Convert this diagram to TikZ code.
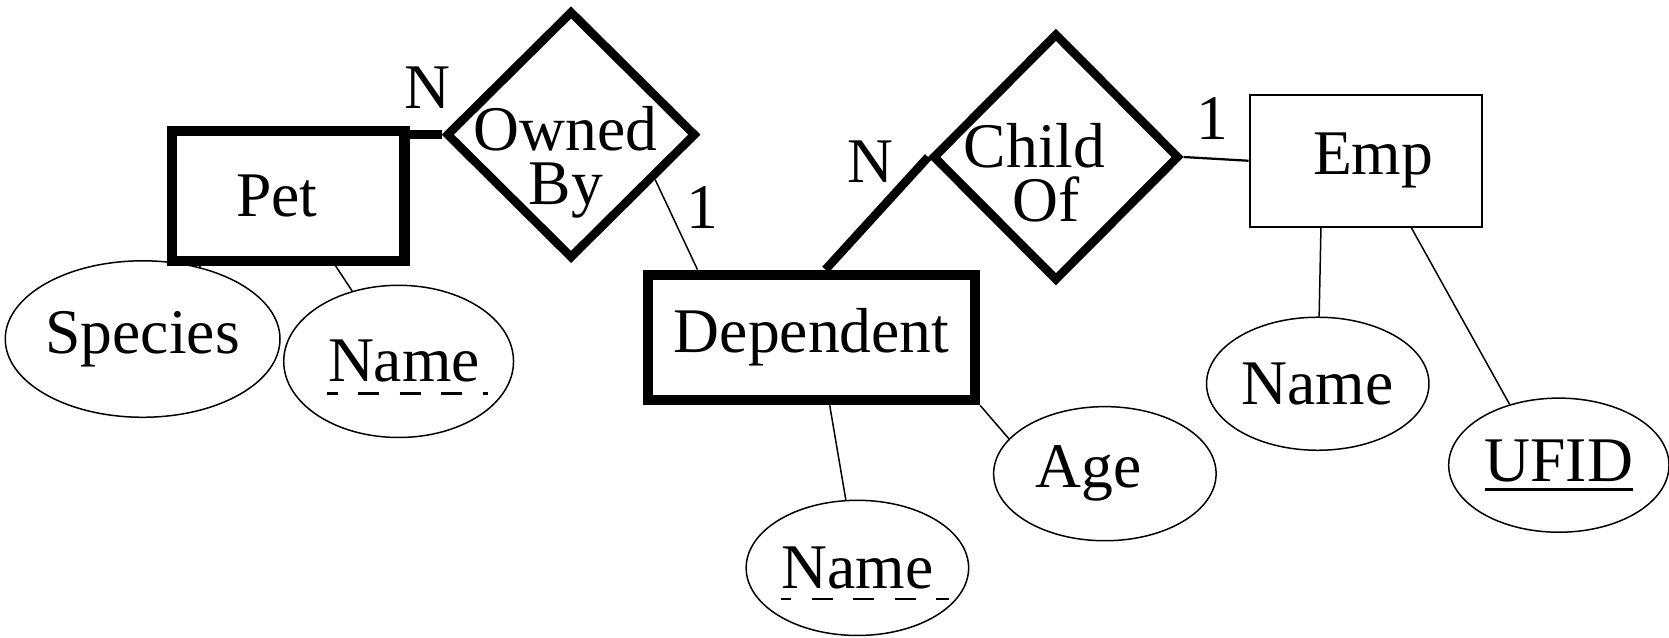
\documentclass[tikz,border=0pt]{standalone}
\usepackage{fontspec}
\setmainfont{Liberation Serif}
\usetikzlibrary{shapes.geometric,calc}

% solid underline for a key attribute
\newcommand{\keyline}[1]{\setbox0=\hbox{#1}\rlap{\rule[-0.09cm]{\wd0}{0.8pt}}\box0}

\begin{document}
\begin{tikzpicture}
          [entity/.style={rectangle,draw,line width=2.7pt,minimum width=2.18cm,minimum height=1.22cm,inner sep=0pt},
          relation/.style={diamond,draw,line width=2.3pt,inner sep=0pt},
          attrib/.style={ellipse,draw,line width=0.4pt,minimum width=2.09cm,minimum height=1.27cm,inner sep=0pt},
          reltext/.style={align=center,inner sep=0pt},
          card/.style={inner sep=0pt},
          partkey/.style={line width=0.6pt,dash pattern=on 0.2cm off 0.19cm,dash phase=0.1cm},
          every node/.style={font=\fontsize{17}{14.3}\selectfont}]
          % \draw[help lines] (0,0) grid (15.68,-5.99);
          \useasboundingbox (0,0) rectangle (15.68,-5.99);
          \node[entity] (pet) at (2.71,-1.84) {Pet\hspace*{0.22cm}};
          \node[relation,minimum width=2.35cm,minimum height=2.33cm,
                label={[reltext,xshift=-0.05cm,yshift=-0.26cm]center:Owned\\By}] (owned) at (5.365,-1.265) {};
          \node[entity,minimum width=3.07cm,minimum height=1.18cm] (dep) at (7.625,-3.17) {Dependent};
          \node[relation,minimum width=2.32cm,minimum height=2.33cm,
                label={[reltext,xshift=-0.2cm,yshift=-0.15cm]center:Child\\\hspace*{0.22cm}Of}] (child) at (9.92,-1.475) {};
          \node[entity,line width=0.6pt,minimum height=1.24cm] (emp) at (12.83,-1.51) {\hspace*{0.14cm}Emp};
          % attributes
          \node[attrib,minimum width=2.46cm,minimum height=1.47cm] (species) at (1.34,-3.185) {Species};
          \node[attrib,minimum height=1.43cm] (pname) at (3.745,-3.395) {\hspace*{0.1cm}Name};
          \node[attrib] (dname) at (8.055,-5.335) {Name};
          \node[attrib,minimum height=1.26cm] (age) at (10.38,-4.45) {Age\hspace*{0.3cm}};
          \node[attrib,minimum height=1.25cm] (ename) at (12.38,-3.605) {Name};
          \node[attrib,minimum width=2.07cm,minimum height=1.26cm] (ufid) at (14.645,-4.37) {\keyline{UFID}};
          % cardinalities
          \node[card] (petcard) at (4.02,-0.82) {N};
          \node[card] (ownercard) at (6.60,-1.95) {1};
          \node[card] (depcard) at (8.18,-1.52) {N};
          \node[card] (empcard) at (11.39,-1.11) {1};
          % relationships
          \draw[line width=2.3pt] (pet.east |- owned.west) -- (owned.west);
          \draw[line width=0.4pt] ($(owned.east)!0.35!(owned.south)$) -- ([xshift=0.51cm]dep.north west);
          \draw[line width=2.3pt] ([xshift=0.13cm]dep.north) -- (child.west);
          \draw[line width=0.6pt] (child.east) -- (emp.west);
          % attribute links
          \draw[line width=0.4pt] (species) -- ([xshift=0.31cm]pet.south west);
          \draw[line width=0.4pt] (pname) -- ([xshift=1.58cm]pet.south west);
          \draw[line width=0.4pt] (dname) -- ([xshift=0.17cm]dep.south);
          \draw[line width=0.4pt] (age.160) -- (dep.south east);
          \draw[line width=0.4pt] (ename) -- ([xshift=-0.42cm]emp.south);
          \draw[line width=0.4pt] (ufid.129) -- ([xshift=0.43cm]emp.south);
          % partial keys
          \draw[partkey] ([xshift=-0.67cm,yshift=-0.11cm]pname.base) -- ([xshift=0.84cm,yshift=-0.11cm]pname.base);
          \draw[partkey] ([xshift=-0.72cm,yshift=-0.1cm]dname.base) -- ([xshift=0.86cm,yshift=-0.1cm]dname.base);
\end{tikzpicture}
\end{document}
